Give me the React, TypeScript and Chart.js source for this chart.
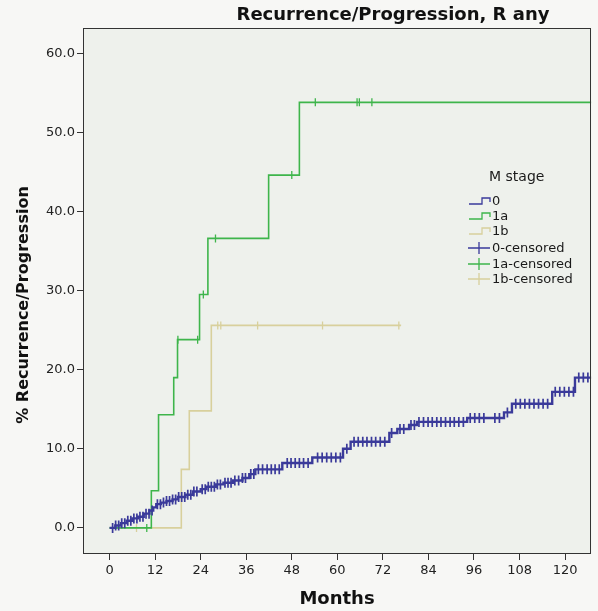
import React, { useEffect, useRef } from 'react';
import { Chart, registerables } from 'chart.js';

Chart.register(...registerables);

const TITLE = 'Recurrence/Progression, R any';
const X_TITLE = 'Months';
const Y_TITLE = '% Recurrence/Progression';
const LEGEND_TITLE = 'M stage';
const X_TICKS = [0, 12, 24, 36, 48, 60, 72, 84, 96, 108, 120];
const Y_TICKS = [0, 10, 20, 30, 40, 50, 60];

// M stage 0 — Kaplan-Meier step times (months) and cumulative % values
const stage0Times = [0, 1.5, 3, 4.5, 6, 7.5, 9, 10.5, 11.5, 12.3, 13.5, 15, 16.6, 18, 20, 22, 24, 25.5, 28, 30, 32.5, 35, 36.8, 38.4, 45.5, 53.4, 61.5, 63.5, 73.7, 75.8, 78.9, 81, 94.2, 103.9, 106, 116.6, 122.6, 126.9];
const stage0Values = [0, 0.3, 0.6, 0.9, 1.2, 1.4, 1.8, 2.2, 2.6, 3.0, 3.2, 3.4, 3.6, 3.9, 4.2, 4.6, 4.9, 5.2, 5.5, 5.7, 6.0, 6.3, 6.8, 7.4, 8.2, 8.9, 10.0, 10.9, 12.0, 12.5, 13.0, 13.4, 13.9, 14.6, 15.7, 17.2, 19.0, 19.0];
const stage0Censored = [0.8, 1.6, 2.4, 3.2, 4.0, 4.8, 5.6, 6.4, 7.2, 8.0, 8.8, 9.6, 10.4, 11.2, 12.6, 13.4, 14.2, 15.0, 15.8, 16.6, 17.4, 18.2, 19.0, 19.8, 20.6, 21.4, 22.2, 23.0, 24.4, 25.2, 26.0, 26.8, 27.6, 28.4, 29.2, 30.4, 31.2, 32.0, 33.0, 34.0, 35.0, 35.8, 37.2, 38.0, 39.2, 40.3, 41.5, 42.6, 43.6, 44.7, 46.8, 47.8, 48.9, 50.0, 51.1, 52.3, 54.8, 56.0, 57.2, 58.4, 59.6, 60.8, 62.5, 64.4, 65.5, 66.7, 67.8, 69.0, 70.1, 71.3, 72.5, 74.3, 76.5, 77.5, 79.4, 80.3, 81.5, 82.7, 83.9, 85.0, 86.2, 87.3, 88.5, 89.7, 90.8, 92.0, 93.2, 95.0, 96.2, 97.4, 98.6, 101.5, 102.7, 104.8, 107.0, 108.2, 109.4, 110.6, 111.8, 113.0, 114.2, 115.4, 117.4, 118.6, 119.8, 121.0, 122.2, 123.6, 124.8, 126.0];

// M stage 1a
const stage1aTimes = [0, 11.0, 12.9, 16.9, 17.9, 23.7, 25.9, 41.9, 50.0, 126.9];
const stage1aValues = [0, 4.7, 14.3, 19.0, 23.8, 29.5, 36.6, 44.6, 53.8, 53.8];
const stage1aCensored = [9.8, 18.0, 23.2, 24.7, 27.9, 48.0, 54.2, 65.2, 65.8, 69.1];

// M stage 1b
const stage1bTimes = [0, 18.9, 21.0, 26.8, 76.8];
const stage1bValues = [0, 7.4, 14.8, 25.6, 25.6];
const stage1bCensored = [7.1, 28.5, 29.3, 39.0, 56.1, 76.2];

const COLOR_0 = '#3a3a9a';
const COLOR_1A = '#3eb54b';
const COLOR_1B = '#d8d09c';
const FONT = 'DejaVu Sans';

function kmAt(times: number[], values: number[], t: number): number {
  let v = values[0];
  for (let i = 0; i < times.length; i++) {
    if (times[i] <= t) v = values[i];
  }
  return v;
}

function stepPoints(times: number[], values: number[]) {
  return times.map((t, i) => ({ x: t, y: values[i] }));
}

function censorPoints(cens: number[], times: number[], values: number[]) {
  return cens.map((t) => ({ x: t, y: kmAt(times, values, t) }));
}

const decorPlugin = {
  id: 'decor',
  beforeDraw(chart: any) {
    const { ctx, chartArea } = chart;
    ctx.save();
    ctx.fillStyle = '#f7f7f5';
    ctx.fillRect(0, 0, chart.width, chart.height);
    ctx.fillStyle = '#eef1ec';
    ctx.fillRect(chartArea.left, chartArea.top, chartArea.right - chartArea.left, chartArea.bottom - chartArea.top);
    ctx.restore();
  },
  afterDraw(chart: any) {
    const { ctx, chartArea } = chart;
    ctx.save();
    ctx.strokeStyle = '#333';
    ctx.lineWidth = 1;
    const l = Math.round(chartArea.left) + 0.5;
    const t = Math.round(chartArea.top) + 0.5;
    const r = Math.round(chartArea.right) - 0.5;
    const b = Math.round(chartArea.bottom) - 0.5;
    ctx.strokeRect(l, t, r - l, b - t);

    ctx.fillStyle = '#111';
    ctx.textAlign = 'center';
    ctx.textBaseline = 'middle';
    ctx.font = `bold 18px "${FONT}"`;
    ctx.fillText(TITLE, 393, 15);

    ctx.font = `bold 18px "${FONT}"`;
    ctx.fillText(X_TITLE, 337, 599);

    ctx.save();
    ctx.translate(24, 305);
    ctx.rotate(-Math.PI / 2);
    ctx.font = `bold 16px "${FONT}"`;
    ctx.fillText(Y_TITLE, 0, 0);
    ctx.restore();

    ctx.textAlign = 'left';
    ctx.font = `14px "${FONT}"`;
    ctx.fillStyle = '#1a1a1a';
    ctx.fillText(LEGEND_TITLE, 489, 177);

    const rows = [
      { label: '0', color: COLOR_0, kind: 'line', y: 201 },
      { label: '1a', color: COLOR_1A, kind: 'line', y: 216 },
      { label: '1b', color: COLOR_1B, kind: 'line', y: 231 },
      { label: '0-censored', color: COLOR_0, kind: 'cens', y: 248 },
      { label: '1a-censored', color: COLOR_1A, kind: 'cens', y: 264 },
      { label: '1b-censored', color: COLOR_1B, kind: 'cens', y: 279 },
    ];
    ctx.font = `13px "${FONT}"`;
    for (const row of rows) {
      ctx.strokeStyle = row.color;
      ctx.lineWidth = 1.3;
      ctx.beginPath();
      if (row.kind === 'line') {
        ctx.moveTo(469, row.y + 3);
        ctx.lineTo(482, row.y + 3);
        ctx.lineTo(482, row.y - 3);
        ctx.lineTo(490, row.y - 3);
        ctx.lineTo(490, row.y + 1);
      } else {
        ctx.moveTo(468, row.y);
        ctx.lineTo(490, row.y);
        ctx.moveTo(479, row.y - 6);
        ctx.lineTo(479, row.y + 6);
      }
      ctx.stroke();
      ctx.fillStyle = '#1a1a1a';
      ctx.fillText(row.label, 492, row.y + 1);
    }
    ctx.restore();
  },
};

export default function App() {
  const ref = useRef<HTMLCanvasElement>(null);

  useEffect(() => {
    document.body.style.margin = '0';
    const canvas = ref.current;
    if (!canvas) return;

    const lineDs = (label: string, times: number[], values: number[], color: string, width: number) => ({
      label,
      data: stepPoints(times, values),
      borderColor: color,
      backgroundColor: color,
      borderWidth: width,
      stepped: true as const,
      pointRadius: 0,
      fill: false,
      showLine: true,
    });
    const censDs = (label: string, cens: number[], times: number[], values: number[], color: string, r: number, w: number) => ({
      label,
      data: censorPoints(cens, times, values),
      borderColor: color,
      backgroundColor: color,
      showLine: false,
      pointStyle: 'line' as const,
      pointRotation: 90,
      pointRadius: r,
      pointBorderWidth: w,
      pointBorderColor: color,
    });

    const chart = new Chart(canvas, {
      type: 'line',
      data: {
        datasets: [
          lineDs('0', stage0Times, stage0Values, COLOR_0, 2.4),
          censDs('0-censored', stage0Censored, stage0Times, stage0Values, COLOR_0, 5, 1.7),
          lineDs('1a', stage1aTimes, stage1aValues, COLOR_1A, 1.6),
          censDs('1a-censored', stage1aCensored, stage1aTimes, stage1aValues, COLOR_1A, 4, 1.3),
          lineDs('1b', stage1bTimes, stage1bValues, COLOR_1B, 1.6),
          censDs('1b-censored', stage1bCensored, stage1bTimes, stage1bValues, COLOR_1B, 4, 1.3),
        ] as any,
      },
      options: {
        animation: false,
        responsive: false,
        devicePixelRatio: 1,
        layout: { padding: { top: 28, right: 6, left: 0, bottom: 0 } },
        plugins: {
          legend: { display: false },
          tooltip: { enabled: false },
          title: { display: false },
        },
        scales: {
          x: {
            type: 'linear',
            min: -7,
            max: 126.9,
            afterBuildTicks: (s: any) => {
              s.ticks = X_TICKS.map((v) => ({ value: v }));
            },
            afterFit: (s: any) => {
              s.height = 57;
            },
            grid: { display: true, drawOnChartArea: false, drawTicks: true, tickLength: 6, color: '#333', lineWidth: 1 },
            border: { display: false },
            ticks: {
              padding: 3,
              color: '#222',
              font: { family: FONT, size: 13 },
              maxRotation: 0,
              autoSkip: false,
              callback: (v: any) => String(v),
            },
          },
          y: {
            type: 'linear',
            min: -3.3,
            max: 63.2,
            afterBuildTicks: (s: any) => {
              s.ticks = Y_TICKS.map((v) => ({ value: v }));
            },
            afterFit: (s: any) => {
              s.width = 83;
            },
            grid: { display: true, drawOnChartArea: false, drawTicks: true, tickLength: 6, color: '#333', lineWidth: 1 },
            border: { display: false },
            ticks: {
              padding: 2,
              color: '#222',
              font: { family: FONT, size: 13 },
              autoSkip: false,
              callback: (v: any) => Number(v).toFixed(1),
            },
          },
        },
      } as any,
      plugins: [decorPlugin],
    });

    return () => chart.destroy();
  }, []);

  return (
    <div style={{ width: 598, height: 611 }}>
      <canvas ref={ref} width={598} height={611} style={{ display: 'block' }} />
    </div>
  );
}
